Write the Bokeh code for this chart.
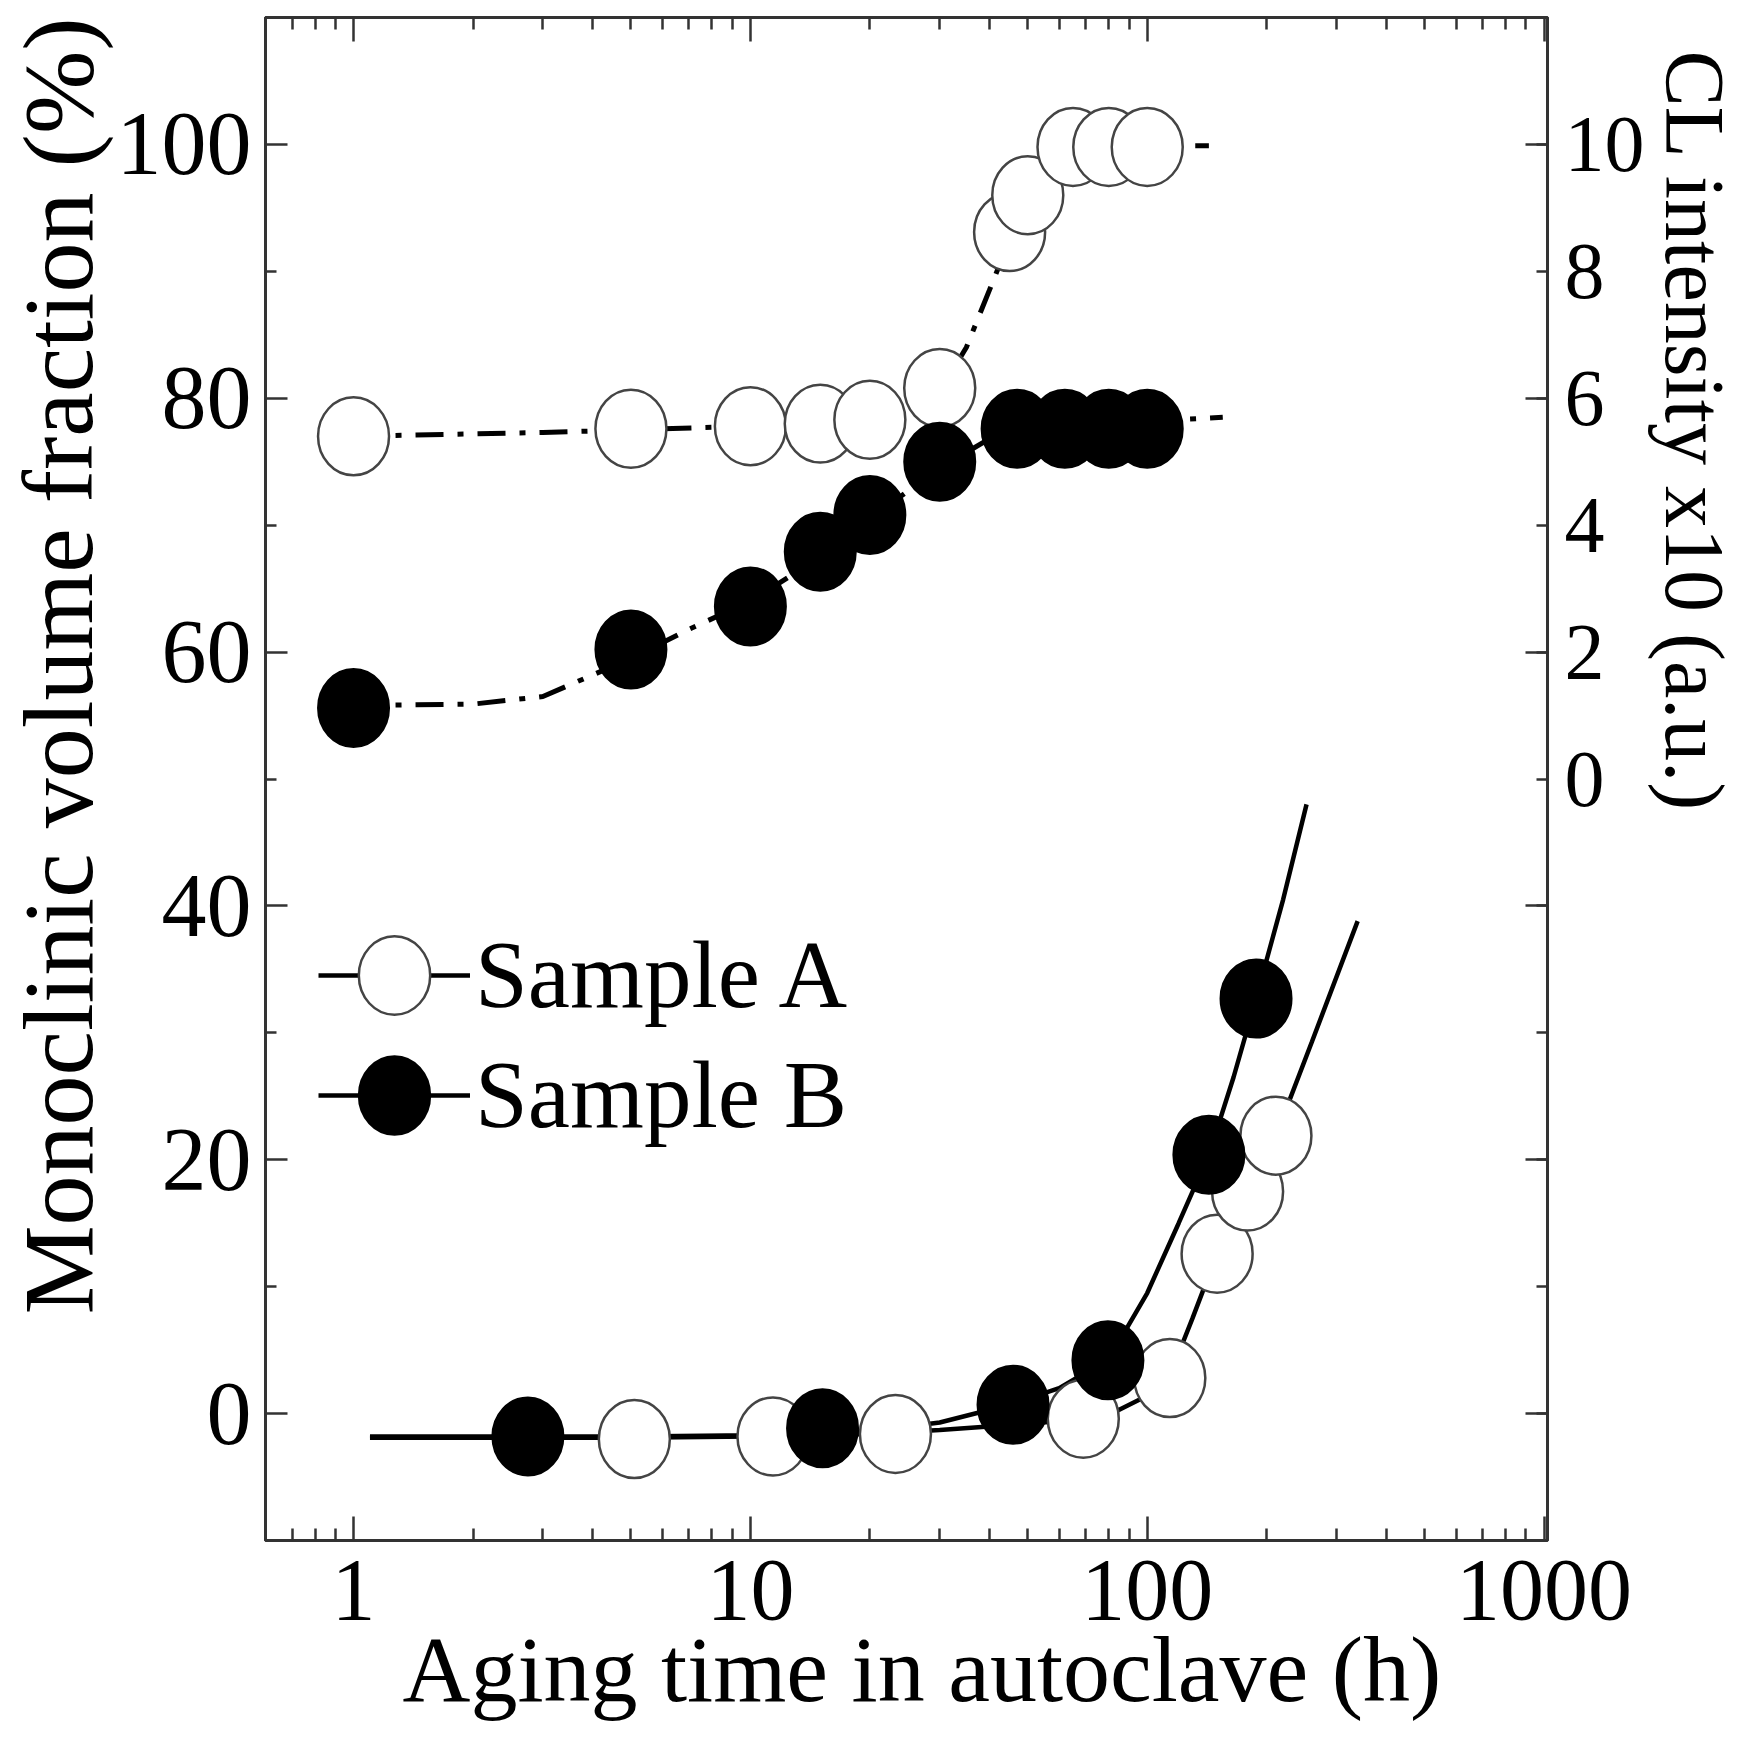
import numpy as np
from bokeh.plotting import figure
from bokeh.models import (Range1d, LinearAxis, LogAxis, FixedTicker, Legend, LegendItem,
                          Title, PrintfTickFormatter, CustomLabelingPolicy)
from bokeh.embed import file_html
from bokeh.resources import INLINE

FONT = "Liberation Serif"

# ---------------- data ----------------
# CL intensity (right axis, x10 a.u.)
a_upper_t = [1, 5, 10, 15, 20, 30, 45, 50, 65, 80, 100]
a_upper_cl = [5.40, 5.52, 5.56, 5.60, 5.66, 6.16, 8.62, 9.20, 9.96, 9.96, 9.96]
b_upper_t = [1, 5, 10, 15, 20, 30, 47, 62, 80, 100]
b_upper_cl = [1.12, 2.04, 2.72, 3.58, 4.16, 5.00, 5.52, 5.52, 5.52, 5.52]
a_fit_upper_t = [1, 3, 10, 20, 25, 30, 35, 40, 45, 50, 60, 70, 100, 143]
a_fit_upper_cl = [5.40, 5.46, 5.56, 5.66, 5.80, 6.10, 6.80, 7.70, 8.50, 9.10, 9.70, 9.92, 9.98, 9.98]
b_fit_upper_t = [1, 2, 3, 5, 7, 10, 15, 20, 30, 40, 50, 70, 100, 155]
b_fit_upper_cl = [1.16, 1.18, 1.30, 1.90, 2.36, 2.80, 3.50, 4.10, 4.90, 5.36, 5.54, 5.60, 5.64, 5.70]

# Monoclinic volume fraction (left axis, %)
a_low_t = [5.1, 11.4, 23.2, 69, 114, 150, 179, 211]
a_low_m = [-2.0, -1.8, -1.6, -0.4, 2.8, 12.6, 17.5, 21.9]
b_low_t = [2.75, 15.2, 45.9, 79.6, 143, 188]
b_low_m = [-1.8, -1.15, 0.7, 4.2, 20.4, 32.7]
a_fit_low_t = [1.1, 5, 10, 20, 30, 45, 60, 70, 85, 100, 114, 130, 150, 179, 211, 260, 339]
a_fit_low_m = [-1.9, -1.9, -1.8, -1.6, -1.3, -0.9, -0.6, -0.4, 0.3, 1.4, 3.0, 7.5, 12.6, 17.5, 21.9, 29.3, 38.8]
b_fit_low_t = [1.1, 5, 10, 20, 30, 45, 60, 80, 100, 120, 143, 165, 188, 220, 252]
b_fit_low_m = [-1.8, -1.8, -1.7, -1.4, -0.7, 0.7, 2.0, 4.3, 9.5, 15.0, 20.4, 26.5, 32.7, 40.5, 48.0]

x_major = [1, 10, 100, 1000]
x_minor = [0.6, 0.7, 0.8, 0.9] + [m * d for d in (1, 10, 100) for m in range(2, 10)]
y_major = [0, 20, 40, 60, 80, 100]
y_minor = [10, 30, 50, 70, 90]
# right axis: tick marks mirror the left axis (every 10 % = 2 CL units), labels only 0..10
cl_marks = [-10, -8, -6, -4, -2, 0, 2, 4, 6, 8, 10]
cl_long = [-10, -6, -2, 2, 6, 10]
cl_labelled_from = 5  # index of CL value 0 in cl_marks

labels = ["Sample A", "Sample B"]
x_title = "Aging time in autoclave (h)"
y_title = "Monoclinic volume fraction (%)"
y2_title = "CL intensity x10 (a.u.)"

# ---------------- figure ----------------
p = figure(width=1742, height=1727, x_axis_type="log",
           x_range=Range1d(0.6, 1020), y_range=Range1d(-10, 110),
           output_backend="svg", toolbar_location=None,
           min_border_left=262, min_border_right=194, min_border_top=17, min_border_bottom=187)
p.extra_y_ranges = {"cl": Range1d(-12, 12)}
p.grid.visible = False
p.outline_line_color = "#333333"
p.outline_line_width = 3
p.background_fill_color = "white"

AX = "#333333"
NO_LABELS = "const idx = Array.from(indices); for (const i of idx) { indices.unset(i) } return indices"
SOME_LABELS = ("const idx = Array.from(indices); for (const i of idx) { if (i < %d) indices.unset(i) } return indices"
               % cl_labelled_from)


def style_axis(ax, major_in=22, minor_in=11):
    ax.axis_line_color = AX
    ax.axis_line_width = 3
    ax.major_tick_line_color = AX
    ax.major_tick_line_width = 2.5
    ax.minor_tick_line_color = AX
    ax.minor_tick_line_width = 2.5
    ax.major_tick_in = major_in
    ax.major_tick_out = 0
    ax.minor_tick_in = minor_in
    ax.minor_tick_out = 0
    ax.major_label_text_font = FONT
    ax.major_label_text_color = "black"


xt = FixedTicker(ticks=x_major, minor_ticks=x_minor)
yt = FixedTicker(ticks=y_major, minor_ticks=y_minor)

xb = p.xaxis[0]
xb.ticker = xt
xb.formatter = PrintfTickFormatter(format="%d")
style_axis(xb, 24, 12)
xb.major_label_text_font_size = "88px"
xb.major_label_standoff = 20

p.add_layout(Title(text=x_title, align="left", offset=137, vertical_align="bottom",
                   text_font=FONT, text_font_style="normal", text_font_size="94px",
                   text_color="black", standoff=-14), "below")

xa = LogAxis(ticker=xt, formatter=PrintfTickFormatter(format="%d"))
style_axis(xa, 24, 12)
xa.major_label_text_font_size = "1px"
xa.major_label_standoff = 0
xa.major_label_policy = CustomLabelingPolicy(code=NO_LABELS)
p.add_layout(xa, "above")

yl = p.yaxis[0]
yl.ticker = yt
style_axis(yl)
yl.major_label_text_font_size = "90px"
yl.major_label_standoff = 14

yr = LinearAxis(y_range_name="cl", ticker=FixedTicker(ticks=cl_marks, minor_ticks=cl_long),
                formatter=PrintfTickFormatter(format="%d"))
style_axis(yr, major_in=11, minor_in=22)
yr.major_label_overrides = {v: "" for v in cl_marks[:cl_labelled_from]}
yr.major_label_policy = CustomLabelingPolicy(code=SOME_LABELS)
yr.major_label_text_font_size = "80px"
yr.major_label_standoff = 17
p.add_layout(yr, "right")

p.add_layout(Title(text=y2_title, align="left", offset=33,
                   text_font=FONT, text_font_style="normal", text_font_size="84px",
                   text_color="black", standoff=0), "right")
p.add_layout(Title(text=y_title, align="right", offset=0,
                   text_font=FONT, text_font_style="normal", text_font_size="100px",
                   text_color="black", standoff=0), "left")

# ---------------- glyphs ----------------
DASH = "28 14 6 14"
p.line(a_fit_upper_t, a_fit_upper_cl, y_range_name="cl", line_color="black", line_width=5, line_dash=DASH)
p.line(b_fit_upper_t, b_fit_upper_cl, y_range_name="cl", line_color="black", line_width=5, line_dash=DASH)
a_line = p.line(a_fit_low_t, a_fit_low_m, line_color="black", line_width=4.5)
b_line = p.line(b_fit_low_t, b_fit_low_m, line_color="black", line_width=4.5)

OPEN = dict(fill_color="white", line_color="#444444", line_width=2.5)
FILL = dict(fill_color="black", line_color="black", line_width=2)
EW, EH = 71, 78

p.ellipse(a_upper_t, a_upper_cl, width=EW, height=EH, width_units="screen", height_units="screen",
          y_range_name="cl", **OPEN)
p.ellipse(b_upper_t, b_upper_cl, width=EW, height=EH, width_units="screen", height_units="screen",
          y_range_name="cl", **FILL)
a_ell = p.ellipse(a_low_t, a_low_m, width=EW, height=EH, width_units="screen", height_units="screen", **OPEN)
b_ell = p.ellipse(b_low_t, b_low_m, width=EW, height=EH, width_units="screen", height_units="screen", **FILL)

legend = Legend(items=[LegendItem(label=labels[0], renderers=[a_line, a_ell]),
                       LegendItem(label=labels[1], renderers=[b_line, b_ell])],
                location=(53, 390), glyph_width=152, glyph_height=98, label_height=98,
                spacing=10, padding=0, margin=0, border_line_color=None,
                background_fill_alpha=0, label_text_font=FONT, label_text_font_size="95px",
                label_standoff=5, label_text_color="black")
p.add_layout(legend)

open("out.html", "w").write(file_html(p, INLINE))
